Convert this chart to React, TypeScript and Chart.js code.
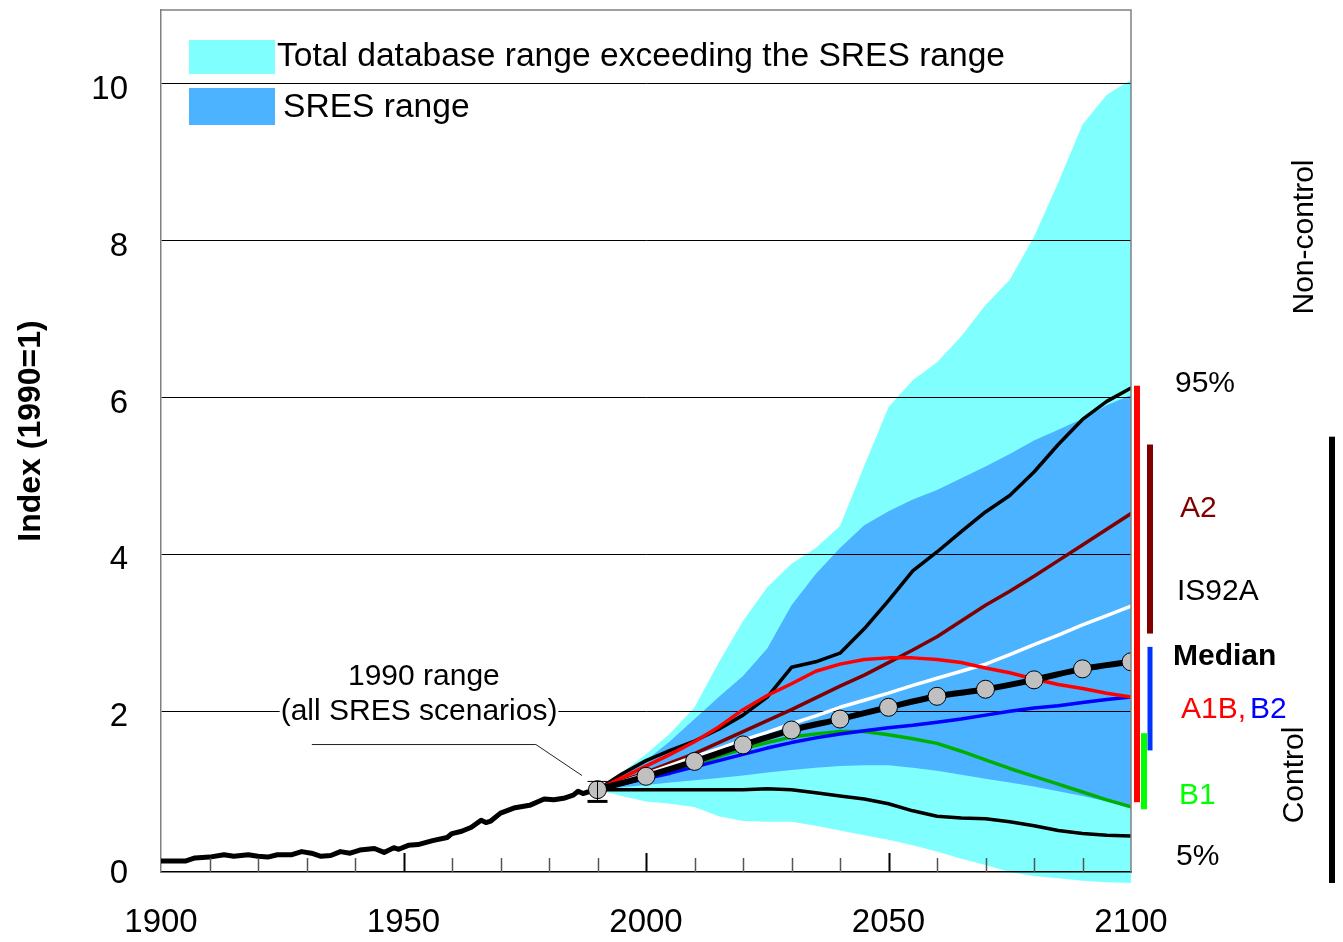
import { useEffect, useRef } from "react";
import { Chart, registerables } from "chart.js";

Chart.register(...registerables);

const FONT_FAMILY = '"Liberation Sans", Arial, Helvetica, sans-serif';

// Historical index (1990 = 1)
const historyYears = [
  1900, 1903, 1905, 1907, 1910, 1913, 1915, 1918, 1920, 1922, 1924, 1927, 1929, 1931, 1933,
  1935, 1937, 1939, 1941, 1944, 1946, 1948, 1949, 1951, 1953, 1956, 1959, 1960, 1962, 1964,
  1966, 1967, 1968, 1970, 1973, 1976, 1979, 1981, 1983, 1985, 1986, 1987, 1988, 1990,
];
const historyIndex = [
  0.09, 0.09, 0.09, 0.13, 0.14, 0.17, 0.15, 0.17, 0.15, 0.14, 0.17, 0.17, 0.21, 0.19, 0.15,
  0.16, 0.21, 0.19, 0.23, 0.25, 0.2, 0.26, 0.24, 0.29, 0.3, 0.35, 0.39, 0.44, 0.47, 0.52,
  0.61, 0.58, 0.6, 0.7, 0.77, 0.8, 0.88, 0.87, 0.89, 0.93, 0.98, 0.95, 0.97, 1.0,
];

// Scenario projections, 5-year steps
const scenarioYears = [
  1990, 1995, 2000, 2005, 2010, 2015, 2020, 2025, 2030, 2035, 2040, 2045, 2050, 2055, 2060,
  2065, 2070, 2075, 2080, 2085, 2090, 2095, 2100,
];
const p95Index = [
  1.0, 1.2, 1.37, 1.5, 1.62, 1.77, 1.95, 2.18, 2.56, 2.63, 2.74, 3.05, 3.41, 3.79, 4.03,
  4.29, 4.54, 4.75, 5.05, 5.4, 5.72, 5.95, 6.12,
];
const p5Index = [
  1.0, 1.0, 1.0, 1.0, 1.0, 1.0, 1.0, 1.01, 1.0, 0.96, 0.92, 0.88, 0.82, 0.73, 0.66, 0.64,
  0.63, 0.59, 0.54, 0.48, 0.44, 0.42, 0.41,
];
const a2Index = [
  1.0, 1.11, 1.22, 1.34, 1.46, 1.6, 1.74, 1.88, 2.02, 2.17, 2.32, 2.46, 2.62, 2.78, 2.95,
  3.15, 3.35, 3.53, 3.72, 3.92, 4.12, 4.32, 4.52,
];
const a1bIndex = [
  1.0, 1.15, 1.3, 1.45, 1.61, 1.8, 2.02, 2.2, 2.35, 2.51, 2.6, 2.66, 2.68, 2.68, 2.66, 2.62,
  2.55, 2.49, 2.41, 2.34, 2.29, 2.23, 2.18,
];
const is92aIndex = [
  1.0, 1.1, 1.2, 1.31, 1.42, 1.52, 1.63, 1.73, 1.84, 1.94, 2.05, 2.14, 2.23, 2.33, 2.42,
  2.51, 2.6, 2.72, 2.85, 2.97, 3.1, 3.22, 3.34,
];
const b2Index = [
  1.0, 1.07, 1.14, 1.21, 1.29, 1.37, 1.45, 1.53, 1.6, 1.66, 1.71, 1.75, 1.79, 1.82, 1.86,
  1.9, 1.95, 2.0, 2.04, 2.07, 2.11, 2.15, 2.18,
];
const b1Index = [
  1.0, 1.07, 1.15, 1.23, 1.32, 1.42, 1.52, 1.6, 1.67, 1.71, 1.74, 1.74, 1.7, 1.65, 1.59,
  1.49, 1.38, 1.27, 1.17, 1.07, 0.97, 0.87, 0.78,
];

// Median of all scenarios, decadal
const medianYears = [1990, 2000, 2010, 2020, 2030, 2040, 2050, 2060, 2070, 2080, 2090, 2100];
const medianIndex = [1.0, 1.17, 1.36, 1.57, 1.76, 1.9, 2.05, 2.19, 2.28, 2.4, 2.54, 2.63];

// Total database range and SRES range
const totalRangeHigh = [
  1.0, 1.22, 1.45, 1.72, 2.05, 2.62, 3.15, 3.58, 3.88, 4.08, 4.36, 5.13, 5.88, 6.22, 6.45,
  6.78, 7.18, 7.5, 8.05, 8.74, 9.48, 9.86, 10.05,
];
const totalRangeLow = [
  1.0, 0.92, 0.85, 0.82, 0.78, 0.66, 0.6, 0.59, 0.59, 0.54, 0.48, 0.42, 0.36, 0.29, 0.21,
  0.12, 0.04, -0.05, -0.1, -0.13, -0.16, -0.18, -0.19,
];
const sresRangeHigh = [
  1.0, 1.18, 1.37, 1.62, 1.9, 2.18, 2.45, 2.8, 3.35, 3.75, 4.08, 4.37, 4.55, 4.7, 4.82, 4.97,
  5.12, 5.28, 5.45, 5.59, 5.73, 5.9, 6.03,
];
const sresRangeLow = [
  1.0, 1.03, 1.06, 1.09, 1.12, 1.15, 1.18, 1.22, 1.25, 1.28, 1.3, 1.31, 1.31, 1.28, 1.24,
  1.19, 1.14, 1.09, 1.04, 0.98, 0.92, 0.85, 0.78,
];

// 1990 range across all SRES scenarios
const range1990 = [0.85, 1.105];

// Scenario-group ranges in 2100, shown as bars right of the plot
const barGroups = ["SRES", "A2", "B2", "B1", "Control"];
const barLow = [0.84, 2.99, 1.5, 0.75, -0.19];
const barHigh = [6.15, 5.4, 2.82, 1.72, 5.5];

// Axis ticks
const xTickValues = [1900, 1950, 2000, 2050, 2100];
const yTickValues = [0, 2, 4, 6, 8, 10];

const CYAN = "#80FFFF";
const SRES_BLUE = "#4BB3FF";

const barStyles: Record<string, { color: string; dx: number; w: number }> = {
  SRES: { color: "#FF0000", dx: 6, w: 6 },
  A2: { color: "#800000", dx: 19, w: 6 },
  B2: { color: "#0033FF", dx: 19, w: 5 },
  B1: { color: "#00FF00", dx: 13, w: 6 },
  Control: { color: "#000000", dx: 201, w: 6 },
};

const pairs = (xs: number[], ys: number[]) => xs.map((x, i) => ({ x, y: ys[i] }));

const font = (size: number, bold = false) => `${bold ? "bold " : ""}${size}px ${FONT_FAMILY}`;

const decorations = {
  id: "decorations",
  beforeDraw(chart: any) {
    const { ctx, scales } = chart;
    const xs = scales.x;
    const ys = scales.y;
    const fillBand = (low: number[], high: number[], color: string) => {
      ctx.save();
      ctx.beginPath();
      scenarioYears.forEach((yr, i) => {
        const px = xs.getPixelForValue(yr);
        const py = ys.getPixelForValue(high[i]);
        if (i === 0) ctx.moveTo(px, py);
        else ctx.lineTo(px, py);
      });
      for (let i = scenarioYears.length - 1; i >= 0; i--) {
        ctx.lineTo(xs.getPixelForValue(scenarioYears[i]), ys.getPixelForValue(low[i]));
      }
      ctx.closePath();
      ctx.fillStyle = color;
      ctx.fill();
      ctx.restore();
    };
    fillBand(totalRangeLow, totalRangeHigh, CYAN);
    fillBand(sresRangeLow, sresRangeHigh, SRES_BLUE);
  },
  afterDraw(chart: any) {
    const { ctx, chartArea: a, scales } = chart;
    const xs = scales.x;
    const ys = scales.y;
    ctx.save();

    // plot frame (top and right)
    ctx.strokeStyle = "#808080";
    ctx.lineWidth = 1.5;
    ctx.beginPath();
    ctx.moveTo(a.left, a.top);
    ctx.lineTo(a.right, a.top);
    ctx.lineTo(a.right, a.bottom);
    ctx.stroke();

    // inward tick marks every decade, longer at labelled years
    for (let yr = 1910; yr < 2100; yr += 10) {
      const px = Math.round(xs.getPixelForValue(yr)) + 0.5;
      const major = yr % 50 === 0;
      ctx.strokeStyle = major ? "#000" : "#555";
      ctx.lineWidth = major ? 2 : 1.5;
      ctx.beginPath();
      ctx.moveTo(px, a.bottom);
      ctx.lineTo(px, a.bottom - (major ? 19 : 14));
      ctx.stroke();
    }

    // 1990 range marker
    const x90 = xs.getPixelForValue(1990);
    const yLo = ys.getPixelForValue(range1990[0]);
    const yHi = ys.getPixelForValue(range1990[1]);
    ctx.strokeStyle = "#000";
    ctx.lineWidth = 1;
    ctx.beginPath();
    ctx.moveTo(x90, yHi);
    ctx.lineTo(x90, yLo);
    ctx.moveTo(x90 - 10, yHi);
    ctx.lineTo(x90 + 10, yHi);
    ctx.stroke();
    ctx.lineWidth = 3;
    ctx.beginPath();
    ctx.moveTo(x90 - 10, yLo);
    ctx.lineTo(x90 + 10, yLo);
    ctx.stroke();

    // callout for the 1990 range
    ctx.strokeStyle = "#222";
    ctx.lineWidth = 1;
    ctx.beginPath();
    ctx.moveTo(xs.getPixelForValue(1931.1), ys.getPixelForValue(1.575));
    ctx.lineTo(xs.getPixelForValue(1977.3), ys.getPixelForValue(1.575));
    ctx.lineTo(xs.getPixelForValue(1986.8), ys.getPixelForValue(1.18));
    ctx.stroke();

    ctx.font = font(30);
    ctx.textAlign = "center";
    ctx.textBaseline = "alphabetic";
    const noteX = xs.getPixelForValue(1953.2);
    const line2 = "(all SRES scenarios)";
    const w2 = ctx.measureText(line2).width;
    ctx.fillStyle = "#fff";
    ctx.fillRect(noteX - w2 / 2 - 1, 696, w2 + 2, 28);
    ctx.fillStyle = "#000";
    ctx.fillText("1990 range", xs.getPixelForValue(1954.2), 685);
    ctx.fillText(line2, noteX, 720);

    // legend
    ctx.textAlign = "left";
    ctx.fillStyle = CYAN;
    ctx.fillRect(a.left + 28, 40, 86, 34);
    ctx.fillStyle = SRES_BLUE;
    ctx.fillRect(a.left + 28, 88, 86, 37);
    ctx.fillStyle = "#000";
    ctx.font = font(33.6);
    ctx.fillText("Total database range exceeding the SRES range", a.left + 116, 66);
    ctx.fillText("SRES range", a.left + 122, 117);

    // scenario range bars
    barGroups.forEach((g, i) => {
      const s = barStyles[g];
      const top = ys.getPixelForValue(barHigh[i]);
      const bot = ys.getPixelForValue(barLow[i]);
      ctx.fillStyle = s.color;
      ctx.fillRect(a.right + s.dx - s.w / 2, top, s.w, bot - top);
    });

    // labels right of the plot
    const R = a.right;
    ctx.font = font(30);
    ctx.fillStyle = "#000";
    ctx.fillText("95%", R + 44, 392);
    ctx.fillStyle = "#800000";
    ctx.fillText("A2", R + 49, 517);
    ctx.fillStyle = "#000";
    ctx.fillText("IS92A", R + 46, 600);
    ctx.font = font(30, true);
    ctx.fillText("Median", R + 42, 665);
    ctx.font = font(30);
    ctx.fillStyle = "#FF0000";
    ctx.fillText("A1B,", R + 50, 718);
    const wA = ctx.measureText("A1B,").width;
    ctx.fillStyle = "#0000FF";
    ctx.fillText("B2", R + 50 + wA + 4, 718);
    ctx.fillStyle = "#00FF00";
    ctx.fillText("B1", R + 48, 804);
    ctx.fillStyle = "#000";
    ctx.fillText("5%", R + 45, 865);

    const vertical = (text: string, cx: number, cy: number, f: string) => {
      ctx.save();
      ctx.translate(cx, cy);
      ctx.rotate(-Math.PI / 2);
      ctx.font = f;
      ctx.textAlign = "center";
      ctx.textBaseline = "middle";
      ctx.fillStyle = "#000";
      ctx.fillText(text, 0, 0);
      ctx.restore();
    };
    vertical("Non-control", R + 174, 237, font(30));
    vertical("Control", R + 164, 775, font(30));
    vertical("Index (1990=1)", 31, 431, font(32, true));

    ctx.restore();
  },
};

export default function App() {
  const canvasRef = useRef<HTMLCanvasElement | null>(null);

  useEffect(() => {
    const canvas = canvasRef.current;
    if (!canvas) return;

    const line = (label: string, data: any[], color: string, width: number, order: number) => ({
      label,
      data,
      borderColor: color,
      backgroundColor: color,
      borderWidth: width,
      pointRadius: 0,
      tension: 0,
      fill: false,
      order,
      borderJoinStyle: "round" as const,
      borderCapStyle: "round" as const,
    });

    const chart = new Chart(canvas, {
      type: "line",
      data: {
        datasets: [
          {
            label: "Median",
            data: pairs(medianYears, medianIndex),
            borderColor: "#000",
            borderWidth: 6,
            pointRadius: 9,
            pointBackgroundColor: "#C0C0C0",
            pointBorderColor: "#000",
            pointBorderWidth: 1,
            cubicInterpolationMode: "monotone",
            fill: false,
            order: 0,
          },
          line("A1B", pairs(scenarioYears, a1bIndex), "#FF0000", 3.5, 1),
          line("IS92A", pairs(scenarioYears, is92aIndex), "#FFFFFF", 3.5, 2),
          line("A2", pairs(scenarioYears, a2Index), "#800000", 3.5, 3),
          line("B2", pairs(scenarioYears, b2Index), "#0000FF", 3.5, 4),
          line("B1", pairs(scenarioYears, b1Index), "#00B000", 3.5, 5),
          line("95%", pairs(scenarioYears, p95Index), "#000000", 3.5, 6),
          line("5%", pairs(scenarioYears, p5Index), "#000000", 3.5, 7),
          line("History", pairs(historyYears, historyIndex), "#000000", 5, 8),
        ],
      },
      options: {
        responsive: false,
        devicePixelRatio: 1,
        animation: false,
        events: [],
        layout: { padding: { left: 0, top: 7, right: 212, bottom: 0 } },
        plugins: {
          legend: { display: false },
          tooltip: { enabled: false },
        },
        scales: {
          x: {
            type: "linear",
            min: 1900,
            max: 2100,
            afterBuildTicks: (scale: any) => {
              scale.ticks = xTickValues.map((value) => ({ value }));
            },
            afterFit: (scale: any) => {
              scale.height = 70;
              scale.paddingLeft = 0;
              scale.paddingRight = 0;
            },
            ticks: {
              autoSkip: false,
              maxRotation: 0,
              padding: 31,
              color: "#000",
              font: { family: FONT_FAMILY, size: 33 },
              callback: (v: any) => String(v),
            },
            grid: { display: false, drawTicks: false },
            border: { display: true, color: "#000", width: 1.5 },
          },
          y: {
            type: "linear",
            min: -0.05,
            max: 10.94,
            afterBuildTicks: (scale: any) => {
              scale.ticks = yTickValues.map((value) => ({ value }));
            },
            afterFit: (scale: any) => {
              scale.width = 161;
              scale.paddingTop = 0;
              scale.paddingBottom = 0;
            },
            ticks: {
              padding: 33,
              labelOffset: 6,
              color: "#000",
              font: { family: FONT_FAMILY, size: 33 },
              callback: (v: any) => String(v),
            },
            grid: {
              drawTicks: false,
              lineWidth: 1,
              color: (ctx: any) => (ctx.tick && ctx.tick.value === 0 ? "rgba(0,0,0,0)" : "#000"),
            },
            border: { display: true, color: "#808080", width: 1.5 },
          },
        },
      },
      plugins: [decorations],
    });

    return () => chart.destroy();
  }, []);

  return (
    <div style={{ position: "fixed", left: 0, top: 0, width: 1343, height: 942, background: "#fff" }}>
      <canvas ref={canvasRef} width={1343} height={942} style={{ display: "block" }} />
    </div>
  );
}
